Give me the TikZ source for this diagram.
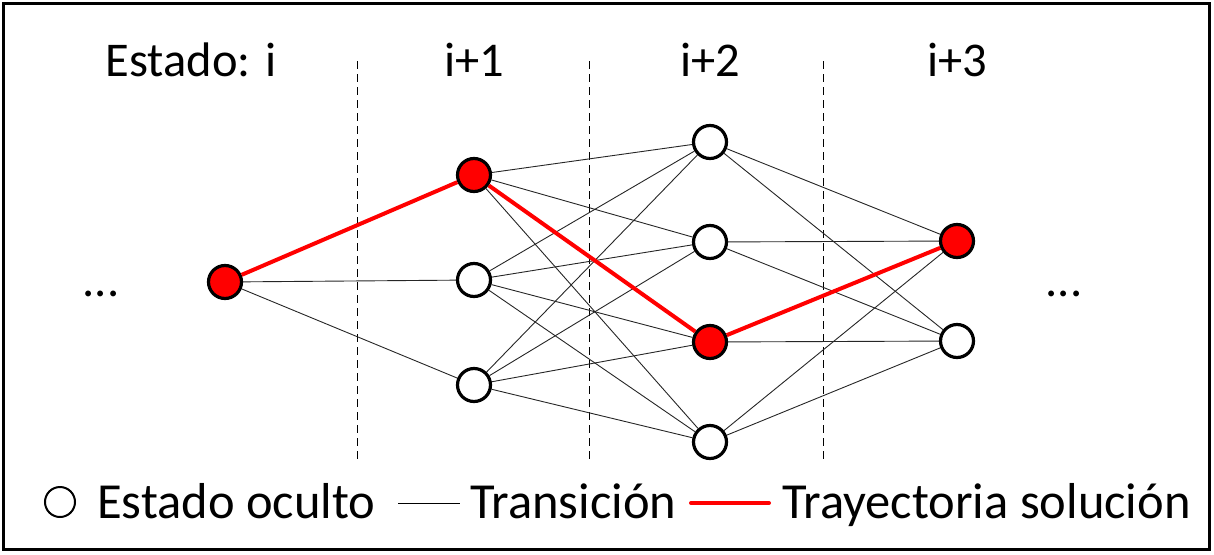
\documentclass[tikz,border=0pt]{standalone}
\usepackage{fontspec}
\setmainfont{Carlito}
\begin{document}
\begin{tikzpicture}[x=1pt,y=-1pt,
  state/.style={circle,draw=black,line width=3.2pt,minimum size=33pt,inner sep=0pt,fill=white},
  sol/.style={state,fill=red},
  trans/.style={line width=0.9pt,black!85},
  path/.style={line width=4pt,red},
  sep/.style={line width=0.9pt,dash pattern=on 8pt off 5pt},
  lbl/.style={font=\fontsize{48.5}{58}\selectfont,anchor=base,inner sep=0pt},
  leg/.style={font=\fontsize{50.5}{60}\selectfont,anchor=base west,inner sep=0pt}]
\useasboundingbox (0,0) rectangle (1214,554);
\draw[line width=3.5pt] (3.5,3.5) rectangle (1209.5,549.5);
% separators
\coordinate (s1t) at (357,61); \coordinate (s1b) at (357,462);
\coordinate (s2t) at (589,61); \coordinate (s2b) at (589,462);
\coordinate (s3t) at (823,61); \coordinate (s3b) at (823,462);
\draw[sep] (s1t) -- (s1b);
\draw[sep] (s2t) -- (s2b);
\draw[sep] (s3t) -- (s3b);
% labels
\node[lbl] (l0) at (191,76) {Estado: i};
\node[lbl] (l1) at (474,76) {i+1};
\node[lbl] (l2) at (710,76) {i+2};
\node[lbl] (l3) at (957,76) {i+3};
\node[lbl] (dl) at (101,296) {...};
\node[lbl] (dr) at (1064,296) {...};
% nodes
\node[sol] (a) at (225,282) {};
\node[sol] (b1) at (474,175) {};
\node[state] (b2) at (474,280) {};
\node[state] (b3) at (474,385) {};
\node[state] (c1) at (710,142) {};
\node[state] (c2) at (710,242) {};
\node[sol] (c3) at (710,342) {};
\node[state] (c4) at (710,442) {};
\node[sol] (d1) at (957,241) {};
\node[state] (d2) at (957,341) {};
% transitions
\foreach \t in {b2,b3} \draw[trans] (a) -- (\t);
\foreach \s in {b1,b2,b3} \foreach \t in {c1,c2,c3,c4} \draw[trans] (\s) -- (\t);
\foreach \s in {c1,c2,c3,c4} \foreach \t in {d1,d2} \draw[trans] (\s) -- (\t);
% solution path
\draw[path] (a) -- (b1);
\draw[path] (b1) -- (c3);
\draw[path] (c3) -- (d1);
% legend
\node[circle,draw=black,line width=2pt,minimum size=30pt,inner sep=0pt] (lc) at (60,502) {};
\node[leg] (lt1) at (97,518) {Estado oculto};
\coordinate (t1) at (398,503); \coordinate (t2) at (460,503);
\draw[line width=0.9pt] (t1) -- (t2);
\node[leg] (lt2) at (470,518) {Transición};
\coordinate (r1) at (691,503); \coordinate (r2) at (769,503);
\draw[line width=4pt,red,line cap=round] (r1) -- (r2);
\node[leg] (lt3) at (782,518) {Trayectoria solución};
\end{tikzpicture}
\end{document}
